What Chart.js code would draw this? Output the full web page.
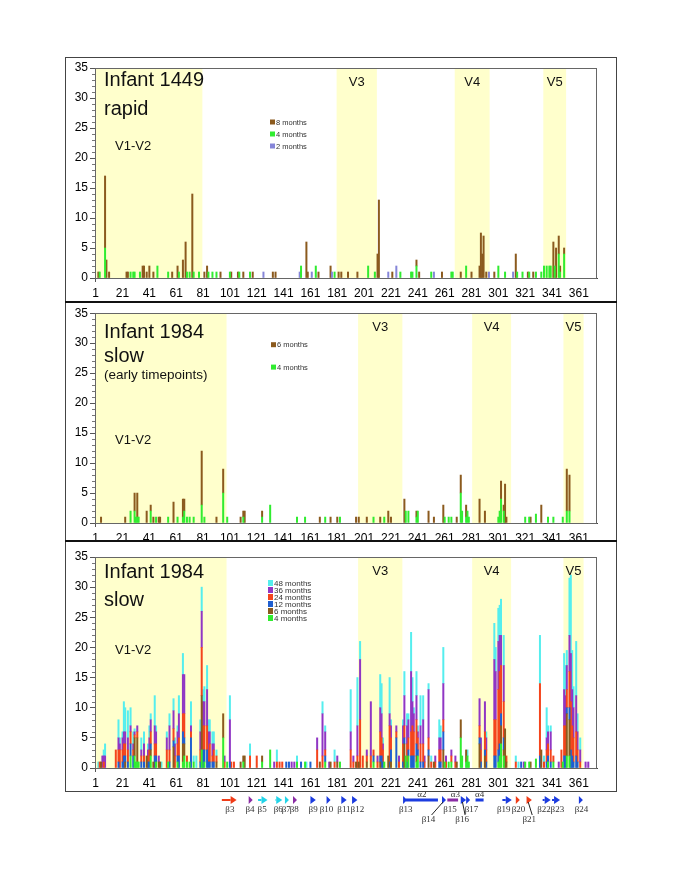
<!DOCTYPE html>
<html>
<head>
<meta charset="utf-8">
<script src="https://cdn.jsdelivr.net/npm/chart.js@4.4.1/dist/chart.umd.min.js"></script>
<style>
  body { margin: 0; background: #fff; }
  #page { position: relative; width: 685px; height: 886px; overflow: hidden; }
  canvas { position: absolute; left: 64px; }
  .frame { position: absolute; left: 65px; top: 57px; width: 552px; height: 735px; box-sizing: border-box; border: 1px solid #444; pointer-events: none; }
  .sep { position: absolute; left: 65px; width: 552px; height: 2px; background: #111; }
</style>
</head>
<body>
<div id="page">
  <canvas id="c1" width="552" height="244" style="top:58px"></canvas>
  <canvas id="c2" width="552" height="237" style="top:304px"></canvas>
  <canvas id="c3" width="552" height="290" style="top:543px"></canvas>
  <div class="frame"></div>
  <div class="sep" style="top:301px"></div>
  <div class="sep" style="top:540px"></div>
</div>
<script>
// residue positions along the x axis
const N_POS = 374;
const POSITIONS = Array.from({ length: N_POS }, (_, i) => i + 1);

// variable loop regions [first, last] and their names
const BANDS_1449 = [[1, 80], [181, 210], [269, 294], [335, 351]];
const BANDS_1984 = [[1, 98], [197, 229], [282, 310], [350, 364]];
const BAND_NAMES = ['V1-V2', 'V3', 'V4', 'V5'];

// Infant 1449 (rapid): [position, value]
const i1449_m8 = [[3,1],[8,12],[9,3],[11,1],[24,1],[25,1],[36,2],[37,2],[39,1],[41,2],[44,1],[58,1],[62,2],[66,3],[68,6],[73,14],[82,1],[84,2],[94,1],[102,1],[107,1],[111,1],[118,1],[133,1],[135,1],[158,6],[159,1],[167,1],[176,2],[182,1],[184,1],[189,1],[196,1],[211,4],[212,13],[222,1],[240,1],[242,1],[259,1],[273,1],[281,1],[287,2],[288,7.5],[289,4],[290,7],[292,1],[298,1],[314,4],[323,1],[327,1],[342,6],[344,5],[346,3],[347,1],[350,1]];
const i1449_m4 = [[4,1],[8,5],[27,1],[29,1],[30,1],[34,1],[47,2],[55,1],[63,1],[69,1],[71,1],[74,1],[78,1],[85,1],[88,1],[91,1],[101,1],[108,1],[116,1],[154,2],[165,2],[179,1],[204,2],[209,1],[228,1],[236,1],[237,1],[240,2],[251,1],[266,1],[267,1],[277,2],[301,2],[306,1],[315,1],[319,1],[324,1],[329,1],[333,1],[335,2],[337,2],[339,2],[340,2],[343,2],[346,4],[347,1],[350,4]];
const i1449_m2 = [[126,1],[153,1],[162,1],[177,1],[219,1],[225,2],[253,1],[294,1],[312,1]];

// Infant 1984 (slow), early timepoints
const i1984_m6 = [[5,1],[23,1],[30,3],[32,4],[39,2],[42,1],[44,1],[48,1],[49,1],[59,3.5],[66,3],[67,2],[80,9],[91,1],[96,4],[109,1],[111,1],[112,2],[125,1],[168,1],[176,1],[181,1],[195,1],[197,1],[203,1],[213,1],[219,2],[221,1],[231,4],[240,1],[249,2],[253,1],[260,3],[270,1],[273,3],[277,2],[287,4],[291,2],[303,3],[305,1],[306,6.5],[307,1],[325,1],[333,3],[352,7],[354,6]];
const i1984_m4 = [[27,2],[30,2],[31,1],[32,1],[33,1],[42,2],[46,1],[55,1],[62,1],[66,1],[67,2],[69,1],[71,1],[74,1],[80,3],[82,1],[96,5],[99,1],[111,1],[125,1],[131,3],[151,1],[157,1],[172,1],[183,1],[208,1],[216,1],[232,2],[234,2],[240,1],[241,2],[261,1],[264,1],[266,1],[273,5],[274,2],[277,1],[278,2],[279,1],[301,1],[302,2],[303,4],[305,2],[321,1],[324,1],[329,1.5],[338,1],[342,1],[349,1],[352,2],[354,2]];

// Infant 1984 (slow), later timepoints
const i1984_m12 = [[18,1],[21,1],[22,2],[23,1],[25,1],[27,2],[29,2],[35,1],[37,1],[40,1],[41,1],[42,1],[45,2],[46,1],[56,1],[59,1],[62,1],[63,2],[66,2],[67,1],[72,5],[79,1],[81,3],[82,2],[84,3],[85,1],[86,1],[88,1],[89,1],[101,1],[143,1],[145,1],[154,1],[161,1],[172,1],[208,1],[213,1],[214,2],[215,1],[220,1],[221,2],[225,5],[230,1],[231,1],[233,1],[234,1],[236,2],[237,2],[238,2],[240,2],[241,1],[243,1],[245,1],[249,1],[257,1],[258,1],[260,3],[287,1],[288,1],[291,1],[292,1],[298,2],[299,2],[301,2],[302,2],[303,2],[305,2],[318,1],[332,2],[337,1],[338,1],[340,1],[350,2],[351,2],[352,1],[354,2],[355,3],[356,2],[357,1],[359,2],[360,1]];
const i1984_m24 = [[4,1],[7,1],[16,3],[18,2],[19,3],[21,2],[22,2],[23,2],[25,2],[27,2],[29,1],[30,0.5],[32,1],[35,1],[37,1],[40,1],[41,2],[42,2],[45,2],[46,2],[54,3],[56,2],[59,2],[60,2],[62,2],[63,3],[66,3],[67,4],[69,1],[72,1],[79,2],[80,8],[81,4],[82,4],[84,4],[85,2],[86,3],[88,1],[89,2],[91,1],[97,1],[102,1],[104,1],[116,2],[121,2],[136,1],[138,1],[140,1],[166,3],[170,2],[172,1],[179,1],[191,3],[193,1],[196,2],[198,8],[200,2],[203,1],[206,2],[208,1],[211,1],[213,4],[214,3],[215,2],[220,6],[221,2],[225,1],[227,1],[230,3],[231,2],[233,3],[234,2],[236,4],[237,5],[238,4],[240,4],[241,2],[243,3],[245,3],[246,1],[249,2],[251,1],[254,1],[257,2],[258,2],[260,2],[262,1],[266,1],[269,1],[287,2],[288,2],[291,3],[292,2],[298,6],[299,6],[301,10],[302,12],[303,8],[305,6],[307,1],[314,1],[332,12],[335,1],[337,2],[338,2],[340,2],[342,1],[348,3],[350,5],[351,5],[352,3],[354,6],[355,8],[356,5],[357,4],[359,4],[360,2],[362,1]];
const i1984_m36 = [[6,2],[7,1],[8,2],[18,2],[19,1],[21,2],[22,2],[23,2],[25,2],[27,1],[29,1],[30,0.5],[32,1],[35,1],[37,2],[40,1],[41,2],[42,2],[45,3],[46,2],[48,1],[54,2],[56,4],[59,3],[60,2],[62,2],[63,4],[66,6.5],[67,6.5],[72,1],[79,3],[80,6],[81,4],[82,4],[84,6],[85,3],[86,2],[88,2],[89,1],[97,1],[101,7],[134,1],[147,1],[149,1],[166,2],[170,7],[172,3],[175,1],[181,1],[191,3],[193,1],[196,5],[198,10],[203,1],[206,9],[211,1],[213,4],[214,4],[215,1],[220,2],[221,2],[225,1],[227,1],[230,3],[231,5],[233,3],[234,3],[236,10],[237,4],[238,3],[240,4],[241,1],[243,3],[245,4],[246,1],[249,8],[254,1],[257,2],[258,2],[260,6],[262,1],[266,1],[269,1],[287,4.5],[288,2],[291,5],[292,2],[298,10],[299,8],[301,8],[302,6],[303,5],[305,6],[320,1],[337,2],[338,2],[340,3],[346,1],[350,6],[351,5],[352,4],[354,6],[355,8],[356,6],[357,5],[359,6],[360,3],[362,2],[366,1],[368,1]];
const i1984_m48 = [[3,1],[7,1],[8,2],[18,3],[19,1],[21,1],[22,5],[23,4],[25,4.5],[27,3],[29,2],[30,0.5],[35,2],[37,2],[40,1],[41,2],[42,1],[45,5],[46,1],[50,1],[54,1],[56,2],[59,2],[60,1],[62,1],[63,3],[66,3.5],[72,4],[74,1],[76,2],[79,2],[80,4],[81,2],[82,2.5],[84,4],[85,2],[86,2],[88,2],[89,2],[91,1],[101,4],[116,2],[136,2],[151,1],[158,1],[170,2],[172,1],[179,2],[191,7],[196,8],[198,3],[213,5.5],[214,5],[215,1],[220,6],[221,1],[230,1],[231,4],[233,2],[234,1],[236,6.5],[237,4],[238,1],[240,4],[241,1],[243,5],[245,4],[249,1],[251,1],[257,3],[258,2],[260,6],[278,1],[292,1],[298,6],[299,4],[301,5.5],[302,5],[303,6],[305,5],[314,1],[316,1],[332,8],[335,1],[337,5],[338,1],[340,1],[350,6],[351,5],[352,2.5],[354,9.5],[355,13],[356,6.5],[357,3.5],[359,9],[360,3],[362,2]];

// secondary structure: [label, from, to, kind, colour, label position, label row]
const SS_RED = '#f03c18', SS_PURPLE = '#8a2ca4', SS_CYAN = '#22d4e8', SS_BLUE = '#1c3ce0';
const STRUCTURE = [
  ['β3', 95, 106, 'arrow', SS_RED, 101, 1],
  ['β4', 115, 118, 'arrow', SS_PURPLE, 116, 1],
  ['β5', 122, 129, 'arrow', SS_CYAN, 125, 1],
  ['β6', 135, 140, 'arrow', SS_CYAN, 137, 1],
  ['β7', 142, 145, 'arrow', SS_CYAN, 143, 1],
  ['β8', 148, 151, 'arrow', SS_PURPLE, 149, 1],
  ['β9', 161, 165, 'arrow', SS_BLUE, 163, 1],
  ['β10', 173, 176, 'arrow', SS_BLUE, 173, 1],
  ['β11', 184, 188, 'arrow', SS_BLUE, 186, 1],
  ['β12', 192, 196, 'arrow', SS_BLUE, 196, 1],
  ['β13', 230, 233, 'arrow', SS_BLUE, 232, 1],
  ['α2', 232, 256, 'helix', SS_BLUE, 244, 0],
  ['β14', 259, 262, 'arrow', SS_BLUE, 249, 2],
  ['α3', 263, 271, 'helix', SS_PURPLE, 269, 0],
  ['β15', 265, 265, 'none', SS_BLUE, 265, 1],
  ['β16', 273, 277, 'arrow', SS_BLUE, 274, 2],
  ['β17', 277, 280, 'arrow', SS_BLUE, 281, 1],
  ['α4', 284, 290, 'helix', SS_BLUE, 287, 0],
  ['β19', 304, 311, 'arrow', SS_BLUE, 305, 1],
  ['β20', 314, 317, 'arrow', SS_RED, 316, 1],
  ['β21', 322, 326, 'arrow', SS_RED, 324, 2],
  ['β22', 334, 340, 'arrow', SS_BLUE, 335, 1],
  ['β23', 341, 347, 'arrow', SS_BLUE, 345, 1],
  ['β24', 361, 364, 'arrow', SS_BLUE, 363, 1]
];

const COLORS = {
  m2: '#8585d8', m4: '#30ec30', m6: '#8b5a1e', m8: '#8b5a1e',
  m12: '#1f5fd0', m24: '#f4441c', m36: '#9036c4', m48: '#55eeee'
};

const FONT = "Arial, 'Liberation Sans', sans-serif";
Chart.defaults.font.family = FONT;
Chart.defaults.color = '#000';

function toSeries(pairs) {
  const out = new Array(N_POS).fill(null);
  pairs.forEach(([p, v]) => { out[p - 1] = v; });
  return out;
}

function isLabelled(i) {
  const p = POSITIONS[i];
  return p <= 361 && (p - 1) % 20 === 0;
}

function decoPlugin(cfg) {
  return {
    id: 'deco',
    beforeDatasetsDraw(chart) {
      const { ctx, chartArea: a, scales: { x } } = chart;
      const step = x.getPixelForValue(1) - x.getPixelForValue(0);
      ctx.save();
      ctx.fillStyle = '#ffffcc';
      cfg.bands.forEach(([s, e]) => {
        const l = Math.max(a.left, x.getPixelForValue(s - 1) - step / 2);
        const r = Math.min(a.right, x.getPixelForValue(e - 1) + step / 2);
        ctx.fillRect(l, a.top, r - l, a.bottom - a.top);
      });
      ctx.restore();
    },
    afterDatasetsDraw(chart) {
      const { ctx, chartArea: a, scales: { x, y } } = chart;
      ctx.save();
      // plot box
      ctx.strokeStyle = '#666';
      ctx.lineWidth = 1;
      ctx.strokeRect(Math.round(a.left) + 0.5, Math.round(a.top) + 0.5,
        Math.round(a.right - a.left) - 1, Math.round(a.bottom - a.top));
      // minor ticks on y
      ctx.strokeStyle = '#777';
      ctx.beginPath();
      for (let v = 1; v < 35; v++) {
        if (v % 5 === 0) continue;
        const py = Math.round(y.getPixelForValue(v)) + 0.5;
        ctx.moveTo(a.left - 3, py);
        ctx.lineTo(a.left, py);
      }
      ctx.stroke();

      // region names
      ctx.fillStyle = '#111';
      ctx.font = '13px ' + FONT;
      ctx.textBaseline = 'alphabetic';
      cfg.bands.forEach(([s, e], i) => {
        if (i === 0) {
          ctx.textAlign = 'left';
          ctx.fillText(BAND_NAMES[i], a.left + 20, a.top + cfg.v12Dy);
        } else {
          ctx.textAlign = 'center';
          const cx = (x.getPixelForValue(s - 1) + x.getPixelForValue(e - 1)) / 2;
          ctx.fillText(BAND_NAMES[i], cx, a.top + 17.5);
        }
      });

      // panel title
      ctx.textAlign = 'left';
      cfg.title.forEach(([text, size, dy]) => {
        ctx.font = size + 'px ' + FONT;
        ctx.fillText(text, a.left + 9, a.top + dy);
      });

      // legend
      const lg = cfg.legend;
      ctx.font = lg.font + 'px ' + FONT;
      ctx.textBaseline = 'middle';
      lg.order.forEach((idx, k) => {
        const ds = chart.data.datasets[idx];
        const cy = a.top + lg.dy + k * lg.gap;
        ctx.fillStyle = ds.backgroundColor;
        ctx.fillRect(a.left + lg.dx, cy - lg.box / 2, 5, lg.box);
        ctx.fillStyle = '#333';
        ctx.fillText(ds.label, a.left + lg.dx + 6, cy + 0.5);
      });
      ctx.restore();
    },
    afterDraw(chart) {
      if (!cfg.structure) return;
      const { ctx, chartArea: a, scales: { x } } = chart;
      const yArrow = a.bottom + 32;
      ctx.save();
      STRUCTURE.forEach(([label, from, to, kind, color, at, row]) => {
        const x0 = x.getPixelForValue(from - 1);
        const x1 = x.getPixelForValue(to - 1);
        ctx.fillStyle = color;
        ctx.strokeStyle = color;
        if (kind === 'arrow') {
          const head = Math.min(6, x1 - x0);
          if (x1 - head > x0) {
            ctx.lineWidth = 2;
            ctx.beginPath();
            ctx.moveTo(x0, yArrow);
            ctx.lineTo(x1 - head, yArrow);
            ctx.stroke();
          }
          ctx.beginPath();
          ctx.moveTo(x1 - head, yArrow - 4);
          ctx.lineTo(x1, yArrow);
          ctx.lineTo(x1 - head, yArrow + 4);
          ctx.closePath();
          ctx.fill();
        } else if (kind === 'helix') {
          ctx.fillRect(x0, yArrow - 1.5, x1 - x0, 3);
        }
        const lx = x.getPixelForValue(at - 1);
        ctx.fillStyle = '#333';
        ctx.textAlign = 'center';
        ctx.textBaseline = 'middle';
        ctx.font = "9px 'Liberation Serif', 'DejaVu Serif', serif";
        if (row === 0) {
          ctx.fillText(label, lx, yArrow - 5);
        } else if (row === 1) {
          ctx.fillText(label, lx, yArrow + 10);
        } else {
          ctx.fillText(label, lx, yArrow + 20);
          ctx.strokeStyle = '#222';
          ctx.lineWidth = 1;
          ctx.beginPath();
          ctx.moveTo(lx + 3, yArrow + 15);
          ctx.lineTo((x0 + x1) / 2 - 1, yArrow + 2);
          ctx.stroke();
        }
      });
      ctx.restore();
    }
  };
}

function makePanel(id, cfg) {
  const datasets = cfg.series.map(([label, pairs, color]) => ({
    label,
    data: toSeries(pairs),
    backgroundColor: color,
    borderWidth: 0,
    barPercentage: 1,
    categoryPercentage: 1
  }));
  return new Chart(document.getElementById(id), {
    type: 'bar',
    data: { labels: POSITIONS, datasets },
    options: {
      responsive: false,
      animation: false,
      devicePixelRatio: 1,
      layout: { padding: cfg.padding },
      plugins: { legend: { display: false }, tooltip: { enabled: false } },
      scales: {
        x: {
          stacked: true,
          grid: {
            offset: false,
            drawOnChartArea: false,
            tickLength: 4,
            color: c => isLabelled(c.index) ? '#555' : 'rgba(0,0,0,0)'
          },
          border: { color: '#444' },
          ticks: {
            autoSkip: false,
            maxRotation: 0,
            padding: 4,
            font: { size: 12 },
            color: '#000',
            callback: (v, i) => isLabelled(i) ? String(POSITIONS[i]) : null
          },
          afterFit: s => { s.height = cfg.xHeight; }
        },
        y: {
          stacked: true,
          min: 0,
          max: 35,
          grid: { drawOnChartArea: false, tickLength: 5, color: '#555' },
          border: { color: '#444' },
          ticks: { stepSize: 5, padding: 2, font: { size: 12 }, color: '#000' },
          afterFit: s => { s.width = 31; }
        }
      }
    },
    plugins: [decoPlugin(cfg)]
  });
}

makePanel('c1', {
  padding: { top: 10, right: 19, bottom: 0, left: 0 },
  xHeight: 24,
  bands: BANDS_1449,
  v12Dy: 82,
  title: [['Infant 1449', 20, 17.5], ['rapid', 20, 46.5]],
  series: [
    ['4 months', i1449_m4, COLORS.m4],
    ['2 months', i1449_m2, COLORS.m2],
    ['8 months', i1449_m8, COLORS.m8]
  ],
  legend: { order: [2, 0, 1], dx: 175, dy: 54, gap: 12, box: 5, font: 7.5 }
});

makePanel('c2', {
  padding: { top: 9, right: 19, bottom: 0, left: 0 },
  xHeight: 18,
  bands: BANDS_1984,
  v12Dy: 131,
  title: [['Infant 1984', 20, 25], ['slow', 20, 48.5], ['(early timepoints)', 13.5, 65.5]],
  series: [
    ['4 months', i1984_m4, COLORS.m4],
    ['6 months', i1984_m6, COLORS.m6]
  ],
  legend: { order: [1, 0], dx: 176, dy: 31.5, gap: 22.4, box: 5, font: 7.5 }
});

makePanel('c3', {
  padding: { top: 14, right: 19, bottom: 43, left: 0 },
  xHeight: 22,
  bands: BANDS_1984,
  v12Dy: 96.5,
  title: [['Infant 1984', 20, 20.5], ['slow', 20, 49]],
  series: [
    ['4 months', i1984_m4, COLORS.m4],
    ['6 months', i1984_m6, COLORS.m6],
    ['12 months', i1984_m12, COLORS.m12],
    ['24 months', i1984_m24, COLORS.m24],
    ['36 months', i1984_m36, COLORS.m36],
    ['48 months', i1984_m48, COLORS.m48]
  ],
  legend: { order: [5, 4, 3, 2, 1, 0], dx: 173, dy: 26, gap: 7, box: 6, font: 8 },
  structure: true
});
</script>
</body>
</html>
